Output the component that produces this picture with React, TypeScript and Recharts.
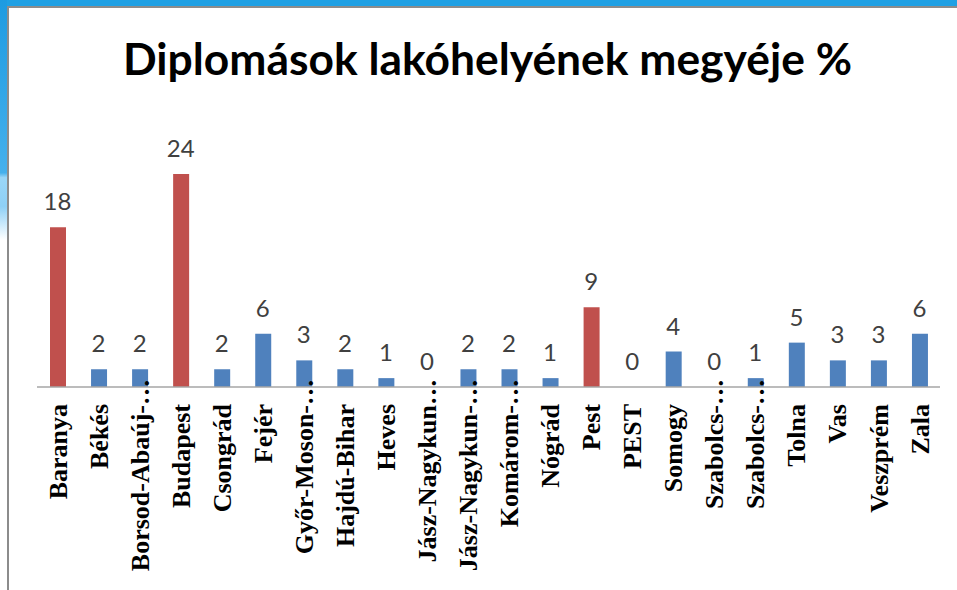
// Diplomások lakóhelyének megyéje % — single-series bar chart, slide-style frame.
// Capital-region counties (Baranya, Budapest, Pest) are drawn red, the rest blue.
// Value labels ride on an invisible line series: Recharts skips labels on
// zero-height bars, and the slide shows its "0"s.

import { ComposedChart, Bar, Line, XAxis, YAxis, Cell } from "recharts";

const COUNTIES = [
  "Baranya",
  "Békés",
  "Borsod-Abaúj-…",
  "Budapest",
  "Csongrád",
  "Fejér",
  "Győr-Moson-…",
  "Hajdú-Bihar",
  "Heves",
  "Jász-Nagykun…",
  "Jász-Nagykun-…",
  "Komárom-…",
  "Nógrád",
  "Pest",
  "PEST",
  "Somogy",
  "Szabolcs-…",
  "Szabolcs-…",
  "Tolna",
  "Vas",
  "Veszprém",
  "Zala",
];

const PERCENTS = [18, 2, 2, 24, 2, 6, 3, 2, 1, 0, 2, 2, 1, 9, 0, 4, 0, 1, 5, 3, 3, 6];

const HIGHLIGHTED = ["Baranya", "Budapest", "Pest"];

const TITLE = "Diplomások lakóhelyének megyéje %";

const RED = "#C0504D";
const BLUE = "#4F81BD";

const data = COUNTIES.map((name, i) => ({ name, value: PERCENTS[i] }));

// Rotated county label. Truncated names keep their text end at the same spot
// as the others, so the ellipsis pokes up past the anchor like in the slide.
function CountyTick(props: any) {
  const { x, y, payload } = props;
  const label: string = payload?.value ?? "";
  const shift = label.endsWith("…") ? 25 : 0;
  return (
    <g transform={`translate(${x},${y}) rotate(-90)`}>
      <text
        x={shift}
        y={0}
        dy="0.35em"
        textAnchor="end"
        fill="#000"
        fontFamily="'Liberation Serif', 'Times New Roman', serif"
        fontWeight="bold"
        fontSize={26}
      >
        {label}
      </text>
    </g>
  );
}

function ValueLabel(props: any) {
  const { x, y, value } = props;
  return (
    <text
      x={Number(x)}
      y={Number(y) - 17}
      textAnchor="middle"
      fill="#404040"
      fontFamily="Lato, 'Open Sans', sans-serif"
      fontSize={24}
    >
      {value}
    </text>
  );
}

export default function App() {
  return (
    <div
      style={{
        position: "fixed",
        left: 0,
        top: 0,
        width: 957,
        height: 590,
        background: "#fff",
        overflow: "hidden",
      }}
    >
      {/* slide frame: blue strip on top, gradient strip on the left */}
      <div style={{ position: "absolute", left: 0, top: 0, width: 957, height: 6, background: "#1FA0E4" }} />
      <div
        style={{
          position: "absolute",
          left: 0,
          top: 0,
          width: 7,
          height: 240,
          background:
            "linear-gradient(180deg, #1E9BE1 0%, #45B0EC 72%, #9AD6F7 74%, #8ED0F6 86%, #ffffff 100%)",
        }}
      />
      <div style={{ position: "absolute", left: 7, top: 6, width: 950, height: 2, background: "#8C8C8C" }} />
      <div style={{ position: "absolute", left: 7, top: 6, width: 2, height: 584, background: "#8C8C8C" }} />

      <svg style={{ position: "absolute", left: 0, top: 0 }} width={957} height={100}>
        <text
          x={123}
          y={75}
          textLength={729}
          lengthAdjust="spacingAndGlyphs"
          fontFamily="Lato, 'Open Sans', sans-serif"
          fontWeight="bold"
          fontSize={44}
          fill="#000"
        >
          {TITLE}
        </text>
      </svg>

      <div style={{ position: "absolute", left: 0, top: 0 }}>
        <ComposedChart
          width={957}
          height={590}
          data={data}
          margin={{ top: 174, right: 17, left: 37, bottom: 13 }}
          barSize={16}
        >
          <XAxis
            dataKey="name"
            interval={0}
            height={190}
            tickSize={0}
            tickMargin={17}
            tickLine={false}
            axisLine={{ stroke: "#A6A6A6", strokeWidth: 1.5 }}
            tick={<CountyTick />}
          />
          <YAxis hide domain={[0, 24]} />
          <Bar dataKey="value" isAnimationActive={false}>
            {data.map((d, i) => (
              <Cell key={i} fill={HIGHLIGHTED.includes(d.name) ? RED : BLUE} />
            ))}
          </Bar>
          <Line
            dataKey="value"
            stroke="none"
            dot={false}
            activeDot={false}
            legendType="none"
            isAnimationActive={false}
            label={<ValueLabel />}
          />
        </ComposedChart>
      </div>
    </div>
  );
}
